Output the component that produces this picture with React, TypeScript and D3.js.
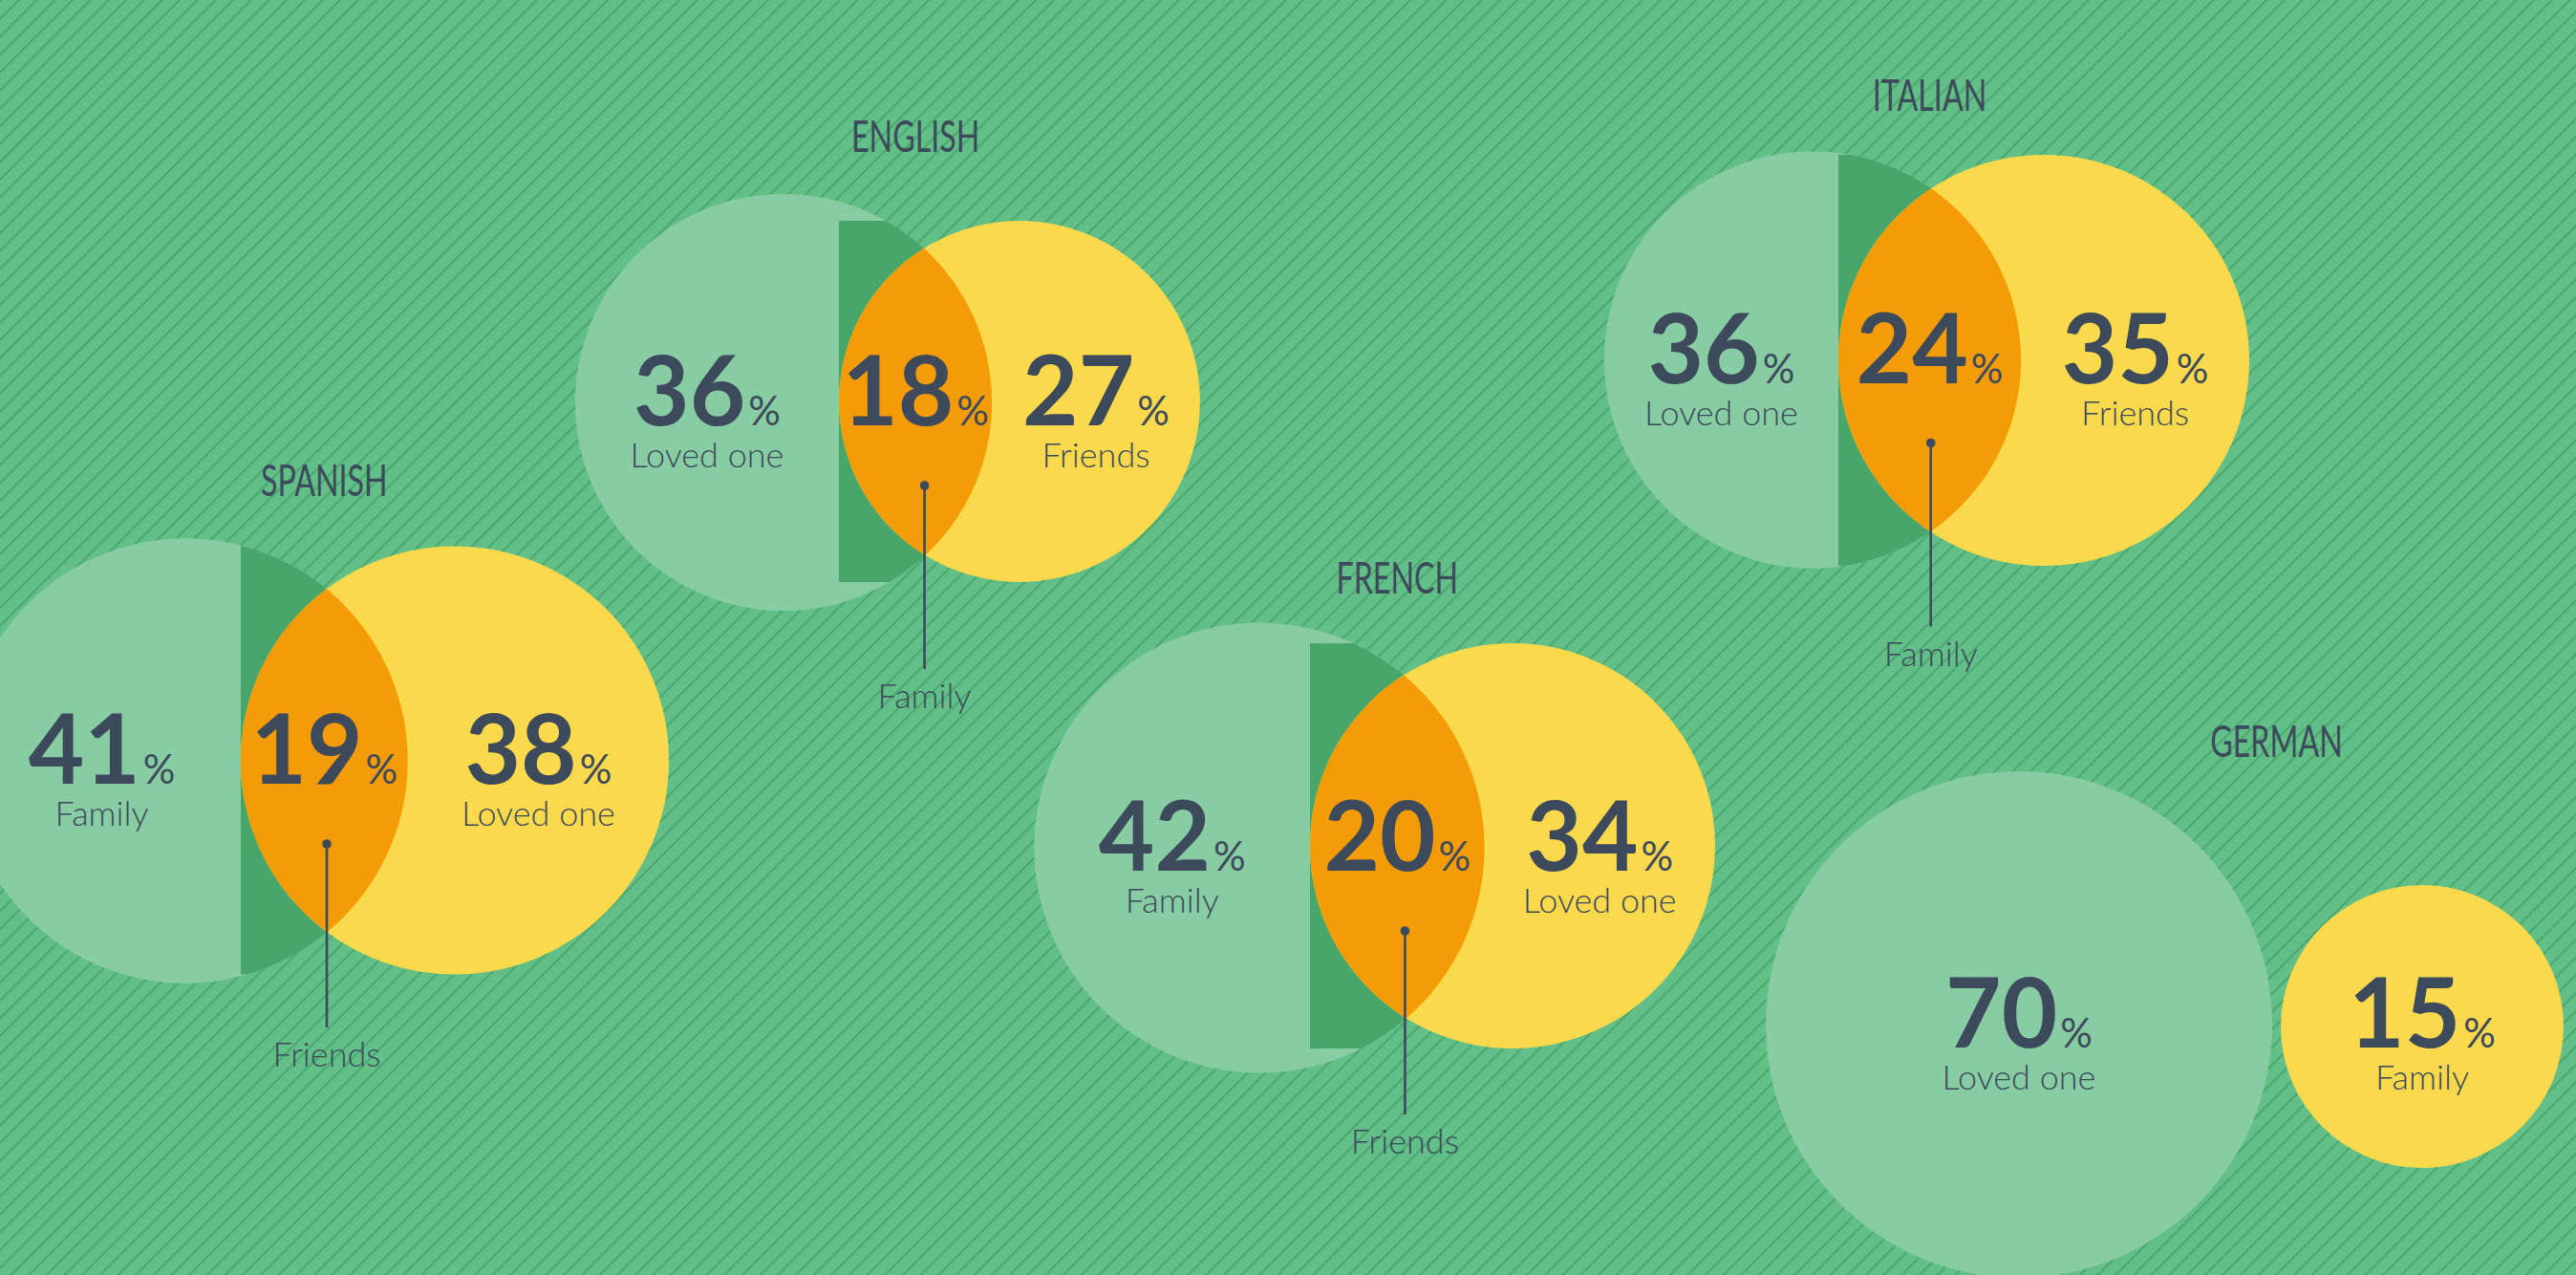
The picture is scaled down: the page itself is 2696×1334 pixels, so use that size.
import React from "react";
import * as d3 from "d3";

// ---- data ----
const languages = ["SPANISH", "ENGLISH", "FRENCH", "ITALIAN", "GERMAN"];
const leftLabels = ["Family", "Loved one", "Family", "Loved one", "Loved one"];
const leftValues = [41, 36, 42, 36, 70];
const rightLabels = ["Loved one", "Friends", "Loved one", "Friends", "Family"];
const rightValues = [38, 27, 34, 35, 15];
const overlapLabels = ["Friends", "Family", "Friends", "Family", null];
const overlapValues = [19, 18, 20, 24, null];

// ---- layout (positions only) ----
const W = 2696;
const H = 1334;
const layout = [
  { lx: 194, ly: 796, rx: 476, ry: 795.5, titleY: 519 },
  { lx: 820, ly: 421, rx: 1067, ry: 420, titleY: 159 },
  { lx: 1318, ly: 887, rx: 1583, ry: 885, titleY: 621 },
  { lx: 1897, ly: 376.5, rx: 2139, ry: 377, titleY: 116 },
  { lx: 2113, ly: 1072, rx: 2535, ry: 1074, titleY: 792, lr: 265, rr: 148 },
];

const radius = d3.scaleSqrt().domain([0, 100]).range([0, 363.5]);

const C = {
  bg: "#62bf88",
  stripe: "#4aa86d",
  light: "#87cca3",
  dark: "#48a66a",
  yellow: "#fbd94c",
  orange: "#f39c07",
  text: "#3d4a5c",
};
const FONT = "Lato, 'Noto Sans', sans-serif";
const LIGHT = "'Lato Light', Lato, 'Noto Sans', sans-serif";

function Value({ x, y, v }: { x: number; y: number; v: number }) {
  return (
    <text x={x} y={y} textAnchor="middle" fill={C.text} fontFamily={FONT}>
      <tspan fontSize={101} fontWeight={700}>{v}</tspan>
      <tspan fontSize={42} fontWeight={400} dx={3}>%</tspan>
    </text>
  );
}

function Label({ x, y, t }: { x: number; y: number; t: string }) {
  return (
    <text x={x} y={y} textAnchor="middle" fill={C.text} fontFamily={LIGHT} fontWeight={300} fontSize={36}>
      {t}
    </text>
  );
}

function Group({ i }: { i: number }) {
  const L = layout[i];
  const lr = L.lr ?? radius(leftValues[i]);
  const rr = L.rr ?? radius(rightValues[i]);
  const hasOverlap = overlapValues[i] != null;
  const cy = L.ly;
  const lensCx = (L.rx - rr + (L.lx + lr)) / 2;
  const leftTx = hasOverlap ? (L.lx - lr + (L.rx - rr)) / 2 : L.lx;
  const rightTx = hasOverlap ? (L.lx + lr + (L.rx + rr)) / 2 : L.rx;
  const d = Math.hypot(L.rx - L.lx, L.ry - L.ly);
  const a = (d * d + lr * lr - rr * rr) / (2 * d);
  const ix = L.lx + (a * (L.rx - L.lx)) / d;
  const idL = `clipL${i}`;
  const idB = `clipB${i}`;
  return (
    <g>
      <defs>
        <clipPath id={idL}>
          <circle cx={L.lx} cy={L.ly} r={lr} />
        </clipPath>
        <clipPath id={idB}>
          <rect x={L.rx - rr} y={L.ry - rr} width={2 * rr} height={2 * rr} />
        </clipPath>
      </defs>
      <circle cx={L.lx} cy={L.ly} r={lr} fill={C.light} />
      {hasOverlap && (
        <circle cx={L.lx} cy={L.ly} r={lr} fill={C.dark} clipPath={`url(#${idB})`} />
      )}
      <circle cx={L.rx} cy={L.ry} r={rr} fill={C.yellow} />
      {hasOverlap && (
        <circle cx={L.rx} cy={L.ry} r={rr} fill={C.orange} clipPath={`url(#${idL})`} />
      )}
      <text
        transform={`translate(${lensCx},${L.titleY}) scale(0.7,1)`}
        textAnchor="middle"
        fill={C.text}
        fontFamily={FONT}
        fontWeight={400}
        fontSize={46}
      >
        {languages[i]}
      </text>
      <Value x={leftTx} y={cy + 24} v={leftValues[i]} />
      <Label x={leftTx} y={cy + 68} t={leftLabels[i]} />
      <Value x={rightTx} y={cy + 24} v={rightValues[i]} />
      <Label x={rightTx} y={cy + 68} t={rightLabels[i]} />
      {hasOverlap && (
        <g>
          <Value x={lensCx} y={cy + 24} v={overlapValues[i] as number} />
          <line x1={ix} x2={ix} y1={cy + 87} y2={cy + 279} stroke={C.text} strokeWidth={2.6} />
          <circle cx={ix} cy={cy + 87} r={4.8} fill={C.text} />
          <Label x={ix} y={cy + 320} t={overlapLabels[i] as string} />
        </g>
      )}
    </g>
  );
}

export default function App() {
  return (
    <svg
      width={W}
      height={H}
      viewBox={`0 0 ${W} ${H}`}
      style={{ position: "absolute", left: 0, top: 0, display: "block" }}
    >
      <defs>
        <pattern
          id="stripes"
          patternUnits="userSpaceOnUse"
          width={13.2}
          height={13.2}
          patternTransform="rotate(45)"
        >
          <rect width={13.2} height={13.2} fill={C.bg} />
          <line x1={1} y1={-1} x2={1} y2={15} stroke={C.stripe} strokeWidth={2} />
        </pattern>
      </defs>
      <rect width={W} height={H} fill="url(#stripes)" />
      {languages.map((_, i) => (
        <Group key={i} i={i} />
      ))}
    </svg>
  );
}
